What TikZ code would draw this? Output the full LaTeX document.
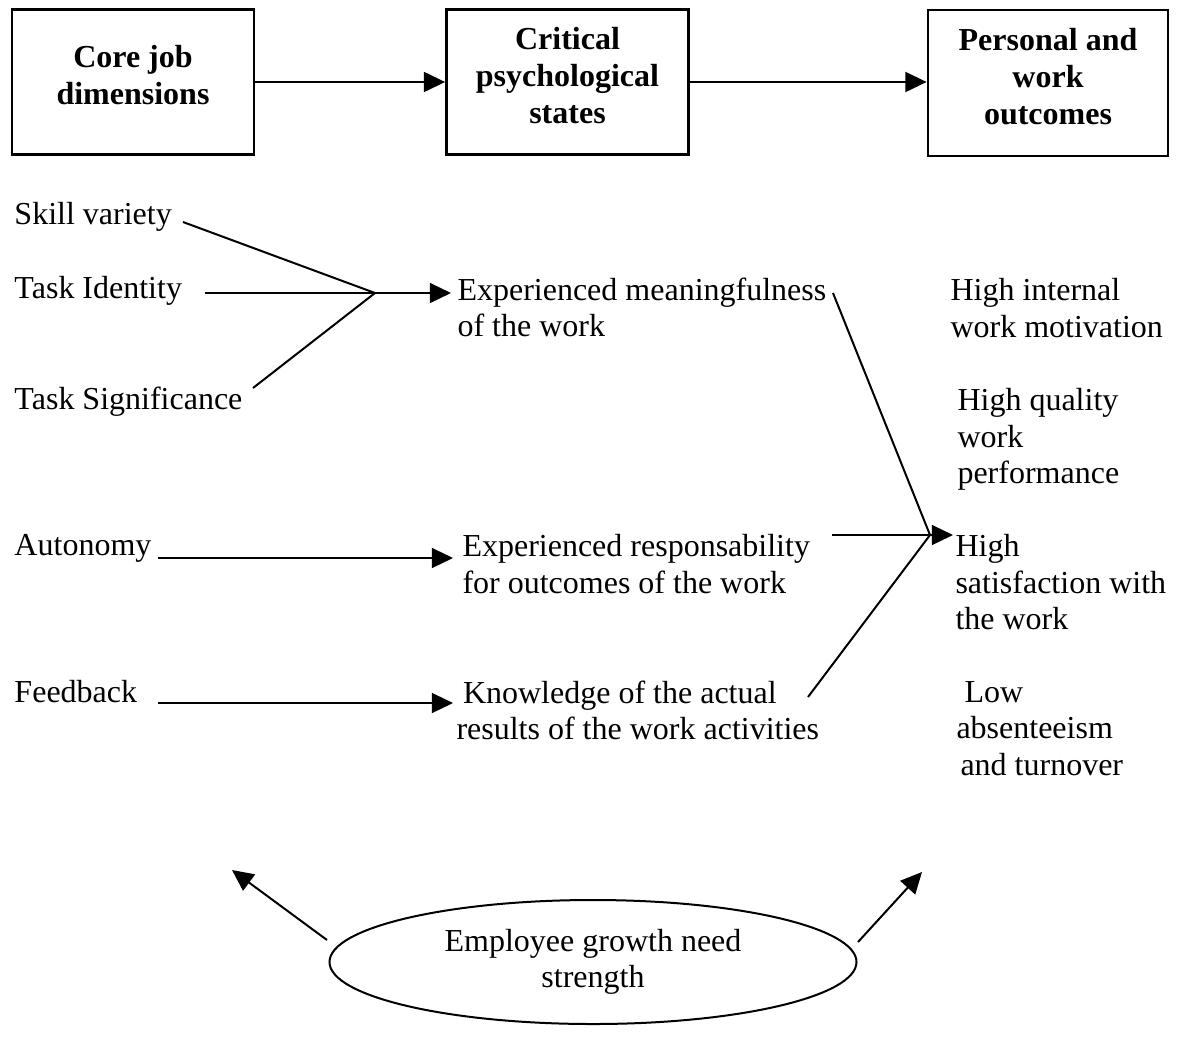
\documentclass[tikz,border=0pt]{standalone}
\usepackage{fontspec}
\setmainfont{Liberation Serif}
\usetikzlibrary{arrows.meta,shapes.geometric}
\begin{document}
\begin{tikzpicture}[x=0.4pt,y=-0.4pt,
  every node/.style={inner sep=0pt,font=\fontsize{12.8}{14.6}\selectfont},
  box/.style={draw,line width=1.1pt,minimum width=96.8pt,minimum height=58pt},
  boxtext/.style={align=center,font=\fontsize{12.8}{14.8}\selectfont\bfseries},
  lbl/.style={anchor=north west,align=left},
  link/.style={line width=0.8pt},
  arr/.style={line width=0.8pt,-{Triangle[length=8.5pt,width=8pt]}}]
\useasboundingbox (0,0) rectangle (1178,1040);

% header boxes
\node[box] (b1) at (133,82) {};
\node[box] (b2) at (567.5,82) {};
\node[box,minimum width=96pt,minimum height=58.4pt] (b3) at (1048,83) {};
\node[boxtext] (t1) at ([yshift=2.8pt]b1.center) {Core job\\dimensions};
\node[boxtext] (t2) at ([yshift=2.4pt]b2.center) {Critical\\psychological\\states};
\node[boxtext] (t3) at ([yshift=2.6pt]b3.center) {Personal and\\work\\outcomes};
\draw[arr] (b1.east) -- (b2.west);
\draw[arr] (b2.east) -- (b3.west |- b2.east);

% core job dimensions
\node[lbl] (sv) at (14,202) {Skill variety};
\node[lbl] (ti) at (14,276) {Task Identity};
\node[lbl] (ts) at (14,386) {Task Significance};
\node[lbl] (au) at (14,534) {Autonomy};
\node[lbl] (fb) at (14,680) {Feedback};

% critical psychological states
\node[lbl] (em) at (457,277) {Experienced meaningfulness\\of the work};
\node[lbl] (er) at (462,534) {Experienced responsability\\for outcomes of the work};
\node[lbl] (kn) at (456,680) {\hspace{2.6pt}Knowledge of the actual\\results of the work activities};

% outcomes
\node[lbl] (o1) at (950,278) {High internal\\work motivation};
\node[lbl] (o2) at (957,388) {High quality\\work\\performance};
\node[lbl] (o3) at (955,534) {High\\satisfaction with\\the work};
\node[lbl] (o4) at (956,681) {\hspace{3.2pt}Low\\absenteeism\\\hspace{1.6pt}and turnover};

% growth need strength
\node[ellipse,draw,line width=0.8pt,minimum width=210.8pt,minimum height=49.6pt,align=center]
  (gn) at (593,962) {Employee growth need\\strength};

% connector end points
\coordinate (J) at (375,293);
\coordinate (svo) at (183,222);
\coordinate (tio) at (205,293);
\coordinate (tso) at (253,388);
\coordinate (emi) at (451,293);
\coordinate (auo) at (158,558);
\coordinate (eri) at (453,558);
\coordinate (fbo) at (158,703);
\coordinate (kni) at (453,703);
\coordinate (K) at (930,535);
\coordinate (emo) at (833,293);
\coordinate (ero) at (832,535);
\coordinate (o3i) at (953,535);
\coordinate (kno) at (808,697);
\coordinate (gl) at (327,940);
\coordinate (glt) at (232,870);
\coordinate (gr) at (858,942);
\coordinate (grt) at (922,872);

% core dimensions to psychological states
\draw[link] (svo) -- (J);
\draw[link] (tso) -- (J);
\draw[link] (tio) -- (J);
\draw[arr] (J) -- (emi);
\draw[arr] (auo) -- (eri);
\draw[arr] (fbo) -- (kni);

% psychological states to outcomes
\draw[link] (emo) -- (K);
\draw[link] (kno) -- (K);
\draw[arr] (ero) -- (o3i);

% moderator arrows
\draw[arr] (gl) -- (glt);
\draw[arr] (gr) -- (grt);
\end{tikzpicture}
\end{document}
